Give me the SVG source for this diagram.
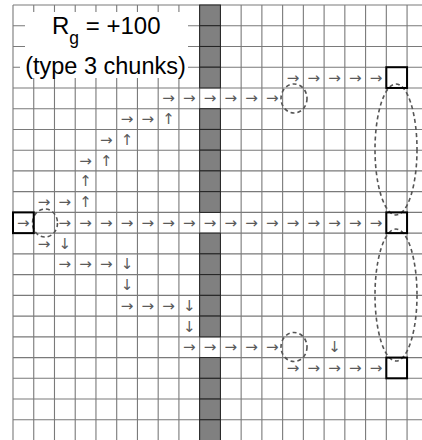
<svg xmlns="http://www.w3.org/2000/svg" width="422" height="440" viewBox="0 0 422 440">
<style>
.g{stroke:#7a7a7a;stroke-width:1.1;fill:none}
.gc{fill:#808080;stroke:#222;stroke-width:1}
.bx{fill:none;stroke:#000;stroke-width:2}
.a{font-family:"DejaVu Sans",sans-serif;font-size:15px;fill:#5a5a5a;text-anchor:middle}
.d{fill:none;stroke:#555;stroke-width:1.6;stroke-dasharray:4 3}
.t{font-family:"Liberation Sans",Arial,sans-serif;fill:#000}
</style>
<rect width="422" height="440" fill="#fff"/>
<g id="grid" class="g">
<path d="M13,5V440M33.74,5V440M54.48,5V440M75.22,5V440M95.96,5V440M116.7,5V440M137.44,5V440M158.18,5V440M178.92,5V440M199.66,5V440M220.4,5V440M241.14,5V440M261.88,5V440M282.62,5V440M303.36,5V440M324.1,5V440M344.84,5V440M365.58,5V440M386.32,5V440M407.06,5V440"/>
<path d="M13,5H422M13,25.74H422M13,46.48H422M13,67.22H422M13,87.96H422M13,108.7H422M13,129.44H422M13,150.18H422M13,170.92H422M13,191.66H422M13,212.4H422M13,233.14H422M13,253.88H422M13,274.62H422M13,295.36H422M13,316.1H422M13,336.84H422M13,357.58H422M13,378.32H422M13,399.06H422M13,419.8H422"/>
</g>
<g id="barrier">
<rect class="gc" x="199.66" y="5" width="20.74" height="20.74"/>
<rect class="gc" x="199.66" y="25.74" width="20.74" height="20.74"/>
<rect class="gc" x="199.66" y="46.48" width="20.74" height="20.74"/>
<rect class="gc" x="199.66" y="67.22" width="20.74" height="20.74"/>
<rect class="gc" x="199.66" y="108.7" width="20.74" height="20.74"/>
<rect class="gc" x="199.66" y="129.44" width="20.74" height="20.74"/>
<rect class="gc" x="199.66" y="150.18" width="20.74" height="20.74"/>
<rect class="gc" x="199.66" y="170.92" width="20.74" height="20.74"/>
<rect class="gc" x="199.66" y="191.66" width="20.74" height="20.74"/>
<rect class="gc" x="199.66" y="233.14" width="20.74" height="20.74"/>
<rect class="gc" x="199.66" y="253.88" width="20.74" height="20.74"/>
<rect class="gc" x="199.66" y="274.62" width="20.74" height="20.74"/>
<rect class="gc" x="199.66" y="295.36" width="20.74" height="20.74"/>
<rect class="gc" x="199.66" y="316.1" width="20.74" height="20.74"/>
<rect class="gc" x="199.66" y="357.58" width="20.74" height="20.74"/>
<rect class="gc" x="199.66" y="378.32" width="20.74" height="20.74"/>
<rect class="gc" x="199.66" y="399.06" width="20.74" height="20.74"/>
<rect class="gc" x="199.66" y="419.8" width="20.74" height="25"/>
</g>
<g id="title">
<path d="M25,12H188V78H20V55H25Z" fill="#fff"/>
<text class="t" x="52" y="33.5" font-size="24">R<tspan font-size="17.5" dy="10">g</tspan><tspan dy="-10"> = +100</tspan></text>
<text class="t" x="105.5" y="74" font-size="23.5" text-anchor="middle">(type 3 chunks)</text>
</g>
<g id="connectors">
<g class="d">
<ellipse cx="294" cy="98.5" rx="13" ry="14.5"/>
<ellipse cx="294" cy="347" rx="13" ry="14.5"/>
<ellipse cx="45" cy="223" rx="12.5" ry="14"/>
<ellipse cx="396" cy="149.5" rx="21" ry="65.5"/>
<ellipse cx="396" cy="295" rx="21" ry="66"/>
</g>
<g class="a">
<text x="292.99" y="82.6">→</text><text x="313.73" y="82.6">→</text><text x="334.47" y="82.6">→</text><text x="355.21" y="82.6">→</text><text x="375.95" y="82.6">→</text>
<text x="168.55" y="103.3">→</text><text x="189.29" y="103.3">→</text><text x="210.03" y="103.3">→</text><text x="230.77" y="103.3">→</text><text x="251.51" y="103.3">→</text><text x="272.25" y="103.3">→</text>
<text x="127.07" y="124.1">→</text><text x="147.81" y="124.1">→</text><text x="168.55" y="124.1">↑</text>
<text x="106.33" y="144.8">→</text><text x="127.07" y="144.8">↑</text>
<text x="85.59" y="165.6">→</text><text x="106.33" y="165.6">↑</text>
<text x="85.59" y="186.3">↑</text>
<text x="44.11" y="207">→</text><text x="64.85" y="207">→</text><text x="85.59" y="207">↑</text>
<text x="23.37" y="227.8">→</text>
<text x="64.85" y="227.8">→</text><text x="85.59" y="227.8">→</text><text x="106.33" y="227.8">→</text><text x="127.07" y="227.8">→</text><text x="147.81" y="227.8">→</text><text x="168.55" y="227.8">→</text><text x="189.29" y="227.8">→</text><text x="210.03" y="227.8">→</text><text x="230.77" y="227.8">→</text><text x="251.51" y="227.8">→</text><text x="272.25" y="227.8">→</text><text x="292.99" y="227.8">→</text><text x="313.73" y="227.8">→</text><text x="334.47" y="227.8">→</text><text x="355.21" y="227.8">→</text><text x="375.95" y="227.8">→</text>
<text x="44.11" y="248.5">→</text><text x="64.85" y="248.5">↓</text>
<text x="64.85" y="269.3">→</text><text x="85.59" y="269.3">→</text><text x="106.33" y="269.3">→</text><text x="127.07" y="269.3">↓</text>
<text x="127.07" y="290">↓</text>
<text x="127.07" y="310.7">→</text><text x="147.81" y="310.7">→</text><text x="168.55" y="310.7">→</text><text x="189.29" y="310.7">↓</text>
<text x="189.29" y="331.5">↓</text>
<text x="189.29" y="352.2">→</text><text x="210.03" y="352.2">→</text><text x="230.77" y="352.2">→</text><text x="251.51" y="352.2">→</text><text x="272.25" y="352.2">→</text><text x="334.47" y="352.2">↓</text>
<text x="292.99" y="373">→</text><text x="313.73" y="373">→</text><text x="334.47" y="373">→</text><text x="355.21" y="373">→</text><text x="375.95" y="373">→</text>
</g>
</g>
<g id="node-src"><rect class="bx" x="13" y="212.4" width="20.74" height="20.74"/></g>
<g id="node-top"><rect class="bx" x="386.32" y="67.22" width="20.74" height="20.74"/></g>
<g id="node-mid"><rect class="bx" x="386.32" y="212.4" width="20.74" height="20.74"/></g>
<g id="node-bot"><rect class="bx" x="386.32" y="357.58" width="20.74" height="20.74"/></g>
</svg>
